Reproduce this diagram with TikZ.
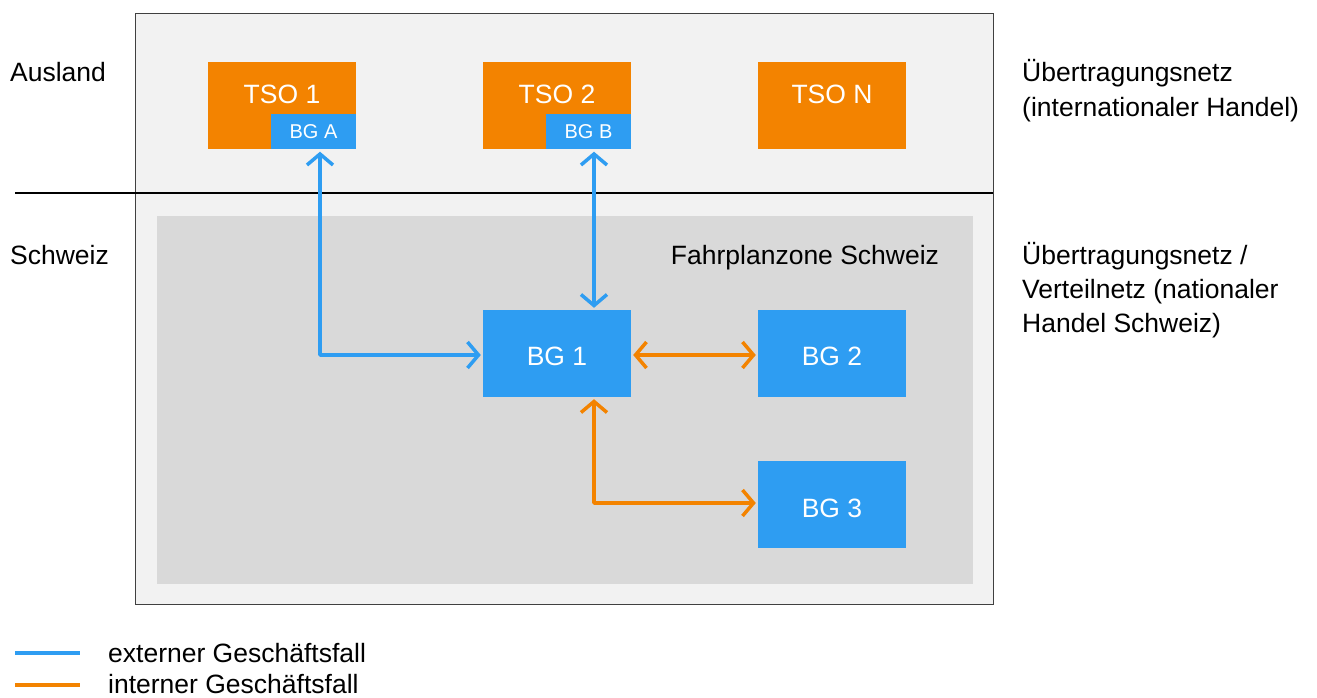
\documentclass[tikz,border=0pt]{standalone}
\usepackage{fontspec}
\setmainfont{Liberation Sans}
\usetikzlibrary{arrows.meta}
\definecolor{cbg}{HTML}{F2F2F2}
\definecolor{cin}{HTML}{D9D9D9}
\definecolor{corange}{HTML}{F38300}
\definecolor{cblue}{HTML}{2E9DF2}
\definecolor{cframe}{HTML}{404040}
\tikzset{
  box/.style={draw=none,minimum width=148pt,minimum height=87pt,inner sep=0pt,text=white,font=\fontsize{26.5}{30}\selectfont},
  tso/.style={box,fill=corange},
  bg/.style={box,fill=cblue},
  sub/.style={draw=none,fill=cblue,minimum width=85pt,minimum height=35pt,inner sep=0pt,text=white,font=\fontsize{20}{24}\selectfont},
  lbl/.style={anchor=base west,inner sep=0pt,font=\fontsize{26.5}{30}\selectfont},
  boxtext/.style={font=\fontsize{26.5}{30}\selectfont,text=white,anchor=base},
  conn/.style={line width=3.5pt,line cap=round,line join=round,{Straight Barb[length=11pt,width=26pt,line width=3.5pt]}-{Straight Barb[length=11pt,width=26pt,line width=3.5pt]}},
}
\begin{document}
\begin{tikzpicture}[x=1pt,y=-1pt]
\useasboundingbox (0,0) rectangle (1317,698);
\draw[cframe,fill=cbg,line width=1pt] (135,14) rectangle (993,604);
\fill[cin] (157,216) rectangle (973,584);
\draw[black,line width=1.5pt] (15,193) -- (993,193);
% TSO boxes
\node[tso] (tso1) at (282,106) {};
\node[sub,anchor=south east] (bga) at (tso1.south east) {BG A};
\node[boxtext] (t1) at (282,104) {TSO 1};
\node[tso] (tso2) at (557,106) {};
\node[sub,anchor=south east] (bgb) at (tso2.south east) {BG B};
\node[boxtext] (t2) at (557,104) {TSO 2};
\node[tso] (tson) at (832,106) {};
\node[boxtext] (tn) at (832,104) {TSO N};
% BG boxes
\node[bg] (bg1) at (557,353.5) {};
\node[boxtext] (bg1t) at (557,365) {BG 1};
\node[bg] (bg2) at (832,353.5) {};
\node[boxtext] (bg2t) at (832,365) {BG 2};
\node[bg] (bg3) at (832,504.5) {};
\node[boxtext] (bg3t) at (832,517) {BG 3};
% labels
\node[lbl] (ausland) at (10,82) {Ausland};
\node[lbl] (schweiz) at (10,264) {Schweiz};
\node[lbl] (r1) at (1022,82) {Übertragungsnetz};
\node[lbl] (r2) at (1022,117) {(internationaler Handel)};
\node[lbl] (r3) at (1022,264) {Übertragungsnetz /};
\node[lbl] (r4) at (1022,298) {Verteilnetz (nationaler};
\node[lbl] (r5) at (1022,332) {Handel Schweiz)};
\node[lbl,anchor=base] (fz) at (805,264) {Fahrplanzone Schweiz};
% connectors
\draw[conn,cblue] ([xshift=6.5pt,yshift=-2pt]bga.south) |- ([xshift=-2pt,yshift=-1.5pt]bg1.west);
\draw[conn,cblue] ([xshift=5.5pt,yshift=-2pt]bgb.south) -- ([xshift=37pt,yshift=2pt]bg1.north);
\draw[conn,corange] ([xshift=2pt,yshift=-1.5pt]bg1.east) -- ([xshift=-2pt,yshift=-1.5pt]bg2.west);
\draw[conn,corange] ([xshift=37pt,yshift=-2pt]bg1.south) |- ([xshift=-2pt,yshift=1.5pt]bg3.west);
% legend
\coordinate (l1a) at (15,653); \coordinate (l1b) at (80,653);
\coordinate (l2a) at (15,685); \coordinate (l2b) at (80,685);
\draw[cblue,line width=4pt] (l1a) -- (l1b);
\draw[corange,line width=4pt] (l2a) -- (l2b);
\node[lbl] (leg1) at (108,662) {externer Geschäftsfall};
\node[lbl] (leg2) at (108,693) {interner Geschäftsfall};
\end{tikzpicture}
\end{document}
